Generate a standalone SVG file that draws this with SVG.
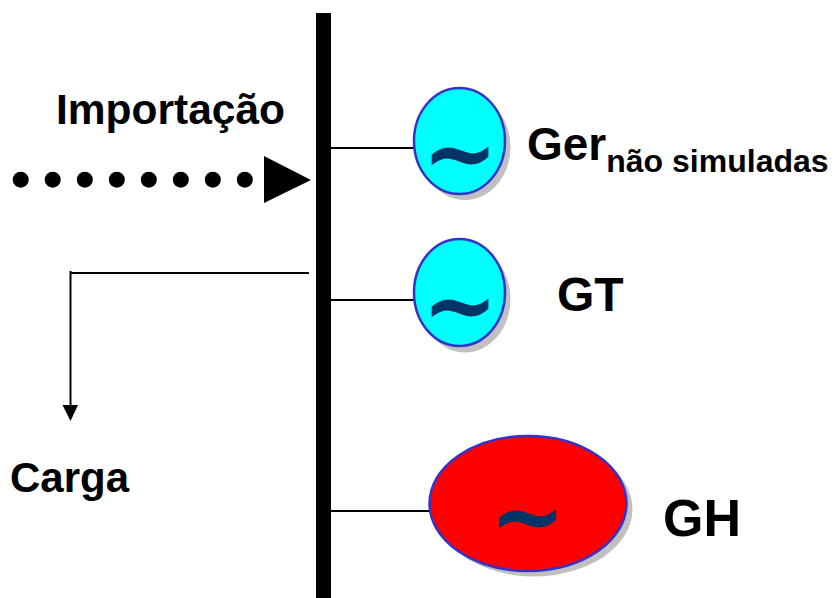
<svg xmlns="http://www.w3.org/2000/svg" width="834" height="598" viewBox="0 0 834 598">
<style>
text{font-family:"Liberation Sans",Arial,sans-serif;font-weight:700;fill:#000}
text.t{font-family:"DejaVu Serif",serif;font-size:89px;fill:#003366;stroke:#003366;stroke-width:1;text-anchor:middle}
.g{stroke:#3333cc;stroke-width:2.500}
.s{fill:#c0c0c0}
.w{stroke:#000;stroke-width:2;fill:none}
</style>
<rect width="834" height="598" fill="#fff"/>
<g id="connectors">
<path class="w" d="M331 148H415M331 300H415M331 511H430"/>
<path class="w" d="M309 273H70.500"/>
<path class="w" d="M70.500 271V406"/>
<path d="M62.500 405H78L70.500 421Z" fill="#000"/>
<g fill="#000"><circle cx="20.700" cy="179.700" r="8"/><circle cx="52.700" cy="179.700" r="8"/><circle cx="84.800" cy="179.700" r="8"/><circle cx="116.800" cy="179.700" r="8"/><circle cx="148.800" cy="179.700" r="8"/><circle cx="180.800" cy="179.700" r="8"/><circle cx="212.800" cy="179.700" r="8"/><circle cx="244.800" cy="179.700" r="8"/></g>
<path d="M264 156L311 180L264 203Z" fill="#000"/>
</g>
<g id="bus"><rect x="316" y="13" width="15" height="585" fill="#000"/></g>
<g id="import-label"><text x="56" y="124" font-size="42.500">Importação</text></g>
<g id="load-label"><text x="10" y="492" font-size="42">Carga</text></g>
<g id="gen-other">
<ellipse class="s" cx="465" cy="147" rx="45.500" ry="53"/>
<ellipse class="g" cx="459.500" cy="141" rx="45.500" ry="53" fill="#00ffff"/>
<text class="t" x="460" y="184">~</text>
<text x="527" y="160" font-size="46">Ger<tspan font-size="32" dy="12">não simuladas</tspan></text>
</g>
<g id="gen-gt">
<ellipse class="s" cx="465" cy="299" rx="45.500" ry="53.500"/>
<ellipse class="g" cx="459.500" cy="292.500" rx="45.500" ry="53.500" fill="#00ffff"/>
<text class="t" x="460" y="335.500">~</text>
<text x="557" y="311" font-size="48">GT</text>
</g>
<g id="gen-gh">
<ellipse class="s" cx="534" cy="509" rx="98.500" ry="67.500"/>
<ellipse class="g" cx="528" cy="503.500" rx="98.500" ry="67.500" fill="#ff0000"/>
<text class="t" x="527.500" y="546.500">~</text>
<text x="663" y="536" font-size="52">GH</text>
</g>
</svg>
